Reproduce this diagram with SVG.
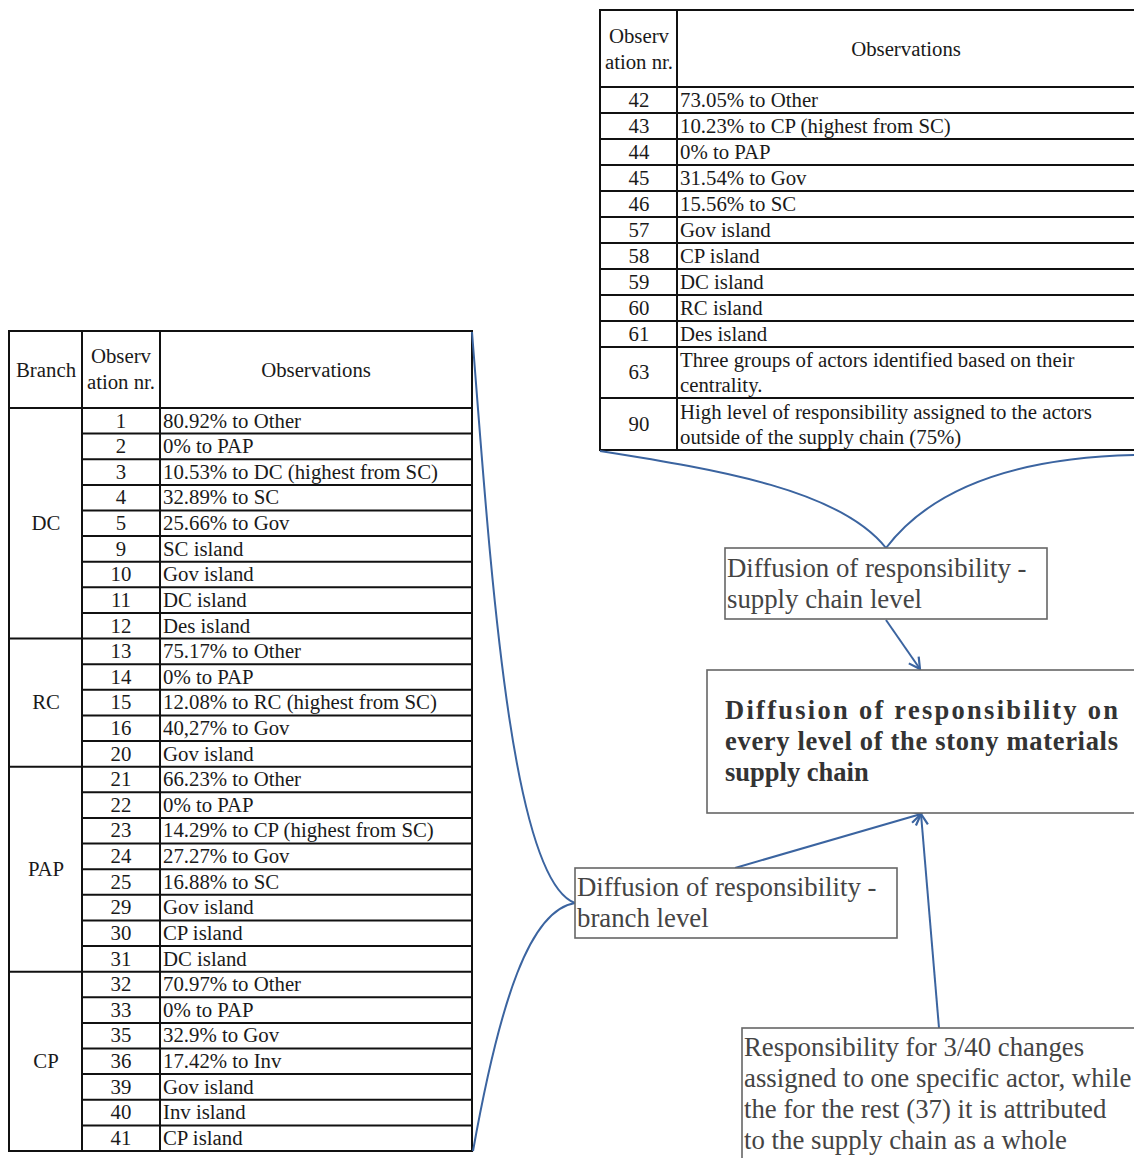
<svg xmlns="http://www.w3.org/2000/svg" width="1134" height="1158" viewBox="0 0 1134 1158">
  <style>
    .grid { stroke: #111; stroke-width: 2; fill: none; }
    .cell { font-family: "Liberation Serif", "Times New Roman", serif; font-size: 20.8px; fill: #1a1a1a; }
    .mid { text-anchor: middle; }
    .box { fill: #fff; stroke: #666; stroke-width: 1.6; }
    .boxtext { font-family: "Liberation Serif", "Times New Roman", serif; font-size: 26.8px; fill: #444; }
    .bold { font-family: "Liberation Serif", "Times New Roman", serif; font-size: 26.5px; font-weight: bold; fill: #333; }
    .link { fill: none; stroke: #3b64a0; stroke-width: 2; }
  </style>
  <defs>
    <marker id="open-arrow" viewBox="0 0 14 14" refX="12" refY="7" markerWidth="14" markerHeight="14" markerUnits="userSpaceOnUse" orient="auto">
      <path d="M1,1 L12,7 L1,13" fill="none" stroke="#3b64a0" stroke-width="2.2"/>
    </marker>
  </defs>
  <rect width="1134" height="1158" fill="#fff"/>

  <!-- Branch-level observations table -->
  <g id="branch-table">
    <rect class="grid" x="9" y="331" width="463" height="820"/>
    <line class="grid" x1="82" y1="331" x2="82" y2="1151"/>
    <line class="grid" x1="160" y1="331" x2="160" y2="1151"/>
    <!-- group boundaries span all columns -->
    <line class="grid" x1="9" y1="408" x2="472" y2="408"/>
    <line class="grid" x1="9" y1="638.6" x2="472" y2="638.6"/>
    <line class="grid" x1="9" y1="766.7" x2="472" y2="766.7"/>
    <line class="grid" x1="9" y1="971.7" x2="472" y2="971.7"/>
    <!-- row boundaries in number and observation columns -->
    <g class="grid">
      <line x1="82" y1="433.6" x2="472" y2="433.6"/>
      <line x1="82" y1="459.2" x2="472" y2="459.2"/>
      <line x1="82" y1="484.9" x2="472" y2="484.9"/>
      <line x1="82" y1="510.5" x2="472" y2="510.5"/>
      <line x1="82" y1="536.1" x2="472" y2="536.1"/>
      <line x1="82" y1="561.7" x2="472" y2="561.7"/>
      <line x1="82" y1="587.3" x2="472" y2="587.3"/>
      <line x1="82" y1="613.0" x2="472" y2="613.0"/>
      <line x1="82" y1="664.2" x2="472" y2="664.2"/>
      <line x1="82" y1="689.8" x2="472" y2="689.8"/>
      <line x1="82" y1="715.4" x2="472" y2="715.4"/>
      <line x1="82" y1="741.1" x2="472" y2="741.1"/>
      <line x1="82" y1="792.3" x2="472" y2="792.3"/>
      <line x1="82" y1="817.9" x2="472" y2="817.9"/>
      <line x1="82" y1="843.5" x2="472" y2="843.5"/>
      <line x1="82" y1="869.2" x2="472" y2="869.2"/>
      <line x1="82" y1="894.8" x2="472" y2="894.8"/>
      <line x1="82" y1="920.4" x2="472" y2="920.4"/>
      <line x1="82" y1="946.0" x2="472" y2="946.0"/>
      <line x1="82" y1="997.3" x2="472" y2="997.3"/>
      <line x1="82" y1="1022.9" x2="472" y2="1022.9"/>
      <line x1="82" y1="1048.5" x2="472" y2="1048.5"/>
      <line x1="82" y1="1074.1" x2="472" y2="1074.1"/>
      <line x1="82" y1="1099.8" x2="472" y2="1099.8"/>
      <line x1="82" y1="1125.4" x2="472" y2="1125.4"/>
    </g>
    <!-- header -->
    <text class="cell mid" x="46" y="377">Branch</text>
    <text class="cell mid" x="121" y="363">Observ</text>
    <text class="cell mid" x="121" y="389">ation nr.</text>
    <text class="cell mid" x="316" y="377">Observations</text>
    <!-- branch names -->
    <text class="cell mid" x="46" y="530">DC</text>
    <text class="cell mid" x="46" y="709">RC</text>
    <text class="cell mid" x="46" y="876">PAP</text>
    <text class="cell mid" x="46" y="1068">CP</text>
    <!-- numbers -->
    <g class="cell mid">
      <text x="121" y="427.5">1</text>
      <text x="121" y="453.1">2</text>
      <text x="121" y="478.7">3</text>
      <text x="121" y="504.4">4</text>
      <text x="121" y="530.0">5</text>
      <text x="121" y="555.6">9</text>
      <text x="121" y="581.2">10</text>
      <text x="121" y="606.8">11</text>
      <text x="121" y="632.5">12</text>
      <text x="121" y="658.1">13</text>
      <text x="121" y="683.7">14</text>
      <text x="121" y="709.3">15</text>
      <text x="121" y="734.9">16</text>
      <text x="121" y="760.6">20</text>
      <text x="121" y="786.2">21</text>
      <text x="121" y="811.8">22</text>
      <text x="121" y="837.4">23</text>
      <text x="121" y="863.0">24</text>
      <text x="121" y="888.7">25</text>
      <text x="121" y="914.3">29</text>
      <text x="121" y="939.9">30</text>
      <text x="121" y="965.5">31</text>
      <text x="121" y="991.2">32</text>
      <text x="121" y="1016.8">33</text>
      <text x="121" y="1042.4">35</text>
      <text x="121" y="1068.0">36</text>
      <text x="121" y="1093.6">39</text>
      <text x="121" y="1119.3">40</text>
      <text x="121" y="1144.9">41</text>
    </g>
    <!-- observations -->
    <g class="cell">
      <text x="163" y="427.5">80.92% to Other</text>
      <text x="163" y="453.1">0% to PAP</text>
      <text x="163" y="478.7">10.53% to DC (highest from SC)</text>
      <text x="163" y="504.4">32.89% to SC</text>
      <text x="163" y="530.0">25.66% to Gov</text>
      <text x="163" y="555.6">SC island</text>
      <text x="163" y="581.2">Gov island</text>
      <text x="163" y="606.8">DC island</text>
      <text x="163" y="632.5">Des island</text>
      <text x="163" y="658.1">75.17% to Other</text>
      <text x="163" y="683.7">0% to PAP</text>
      <text x="163" y="709.3">12.08% to RC (highest from SC)</text>
      <text x="163" y="734.9">40,27% to Gov</text>
      <text x="163" y="760.6">Gov island</text>
      <text x="163" y="786.2">66.23% to Other</text>
      <text x="163" y="811.8">0% to PAP</text>
      <text x="163" y="837.4">14.29% to CP (highest from SC)</text>
      <text x="163" y="863.0">27.27% to Gov</text>
      <text x="163" y="888.7">16.88% to SC</text>
      <text x="163" y="914.3">Gov island</text>
      <text x="163" y="939.9">CP island</text>
      <text x="163" y="965.5">DC island</text>
      <text x="163" y="991.2">70.97% to Other</text>
      <text x="163" y="1016.8">0% to PAP</text>
      <text x="163" y="1042.4">32.9% to Gov</text>
      <text x="163" y="1068.0">17.42% to Inv</text>
      <text x="163" y="1093.6">Gov island</text>
      <text x="163" y="1119.3">Inv island</text>
      <text x="163" y="1144.9">CP island</text>
    </g>
  </g>

  <!-- Supply-chain-level observations table -->
  <g id="supply-chain-table">
    <rect class="grid" x="600" y="10" width="545" height="440"/>
    <line class="grid" x1="677" y1="10" x2="677" y2="450"/>
    <g class="grid">
      <line x1="600" y1="87" x2="1145" y2="87"/>
      <line x1="600" y1="113" x2="1145" y2="113"/>
      <line x1="600" y1="139" x2="1145" y2="139"/>
      <line x1="600" y1="165" x2="1145" y2="165"/>
      <line x1="600" y1="191" x2="1145" y2="191"/>
      <line x1="600" y1="217" x2="1145" y2="217"/>
      <line x1="600" y1="243" x2="1145" y2="243"/>
      <line x1="600" y1="269" x2="1145" y2="269"/>
      <line x1="600" y1="295" x2="1145" y2="295"/>
      <line x1="600" y1="321" x2="1145" y2="321"/>
      <line x1="600" y1="347" x2="1145" y2="347"/>
      <line x1="600" y1="398" x2="1145" y2="398"/>
    </g>
    <text class="cell mid" x="639" y="43">Observ</text>
    <text class="cell mid" x="639" y="69">ation nr.</text>
    <text class="cell mid" x="906" y="56">Observations</text>
    <g class="cell mid">
      <text x="639" y="106.5">42</text>
      <text x="639" y="132.5">43</text>
      <text x="639" y="158.5">44</text>
      <text x="639" y="184.5">45</text>
      <text x="639" y="210.5">46</text>
      <text x="639" y="236.5">57</text>
      <text x="639" y="262.5">58</text>
      <text x="639" y="288.5">59</text>
      <text x="639" y="314.5">60</text>
      <text x="639" y="340.5">61</text>
      <text x="639" y="379">63</text>
      <text x="639" y="431">90</text>
    </g>
    <g class="cell">
      <text x="680" y="106.5">73.05% to Other</text>
      <text x="680" y="132.5">10.23% to CP (highest from SC)</text>
      <text x="680" y="158.5">0% to PAP</text>
      <text x="680" y="184.5">31.54% to Gov</text>
      <text x="680" y="210.5">15.56% to SC</text>
      <text x="680" y="236.5">Gov island</text>
      <text x="680" y="262.5">CP island</text>
      <text x="680" y="288.5">DC island</text>
      <text x="680" y="314.5">RC island</text>
      <text x="680" y="340.5">Des island</text>
      <text x="680" y="366.5">Three groups of actors identified based on their</text>
      <text x="680" y="391.5">centrality.</text>
      <text x="680" y="418.5">High level of responsibility assigned to the actors</text>
      <text x="680" y="443.5">outside of the supply chain (75%)</text>
    </g>
  </g>

  <!-- Connectors -->
  <g id="connectors">
    <path class="link" d="M472,332 C490,560 510,880 575,903"/>
    <path class="link" d="M575,903 C530,910 500,1000 473,1151"/>
    <path class="link" d="M600,451 C720,470 840,490 886,548"/>
    <path class="link" d="M886,548 C930,490 1010,458 1134,455"/>
    <line class="link" x1="886" y1="620" x2="920" y2="669" marker-end="url(#open-arrow)"/>
    <line class="link" x1="735" y1="868" x2="921" y2="814" marker-end="url(#open-arrow)"/>
    <line class="link" x1="939" y1="1028" x2="921" y2="814" marker-end="url(#open-arrow)"/>
  </g>

  <!-- Summary boxes -->
  <g id="supply-chain-level">
    <rect class="box" x="725" y="548" width="322" height="71"/>
    <text class="boxtext" x="727" y="577">Diffusion of responsibility -</text>
    <text class="boxtext" x="727" y="608">supply chain level</text>
  </g>

  <g id="every-level">
    <rect class="box" x="707" y="670" width="440" height="143"/>
    <text class="bold" x="725" y="719" textLength="393" lengthAdjust="spacing">Diffusion of responsibility on</text>
    <text class="bold" x="725" y="750" textLength="393" lengthAdjust="spacing">every level of the stony materials</text>
    <text class="bold" x="725" y="781">supply chain</text>
  </g>

  <g id="branch-level">
    <rect class="box" x="575" y="868" width="322" height="70"/>
    <text class="boxtext" x="577" y="896">Diffusion of responsibility -</text>
    <text class="boxtext" x="577" y="927">branch level</text>
  </g>

  <g id="responsibility-changes">
    <rect class="box" x="742" y="1028" width="405" height="140"/>
    <text class="boxtext" x="744" y="1056">Responsibility for 3/40 changes</text>
    <text class="boxtext" x="744" y="1087">assigned to one specific actor, while</text>
    <text class="boxtext" x="744" y="1118">the for the rest (37) it is attributed</text>
    <text class="boxtext" x="744" y="1149">to the supply chain as a whole</text>
  </g>
</svg>
